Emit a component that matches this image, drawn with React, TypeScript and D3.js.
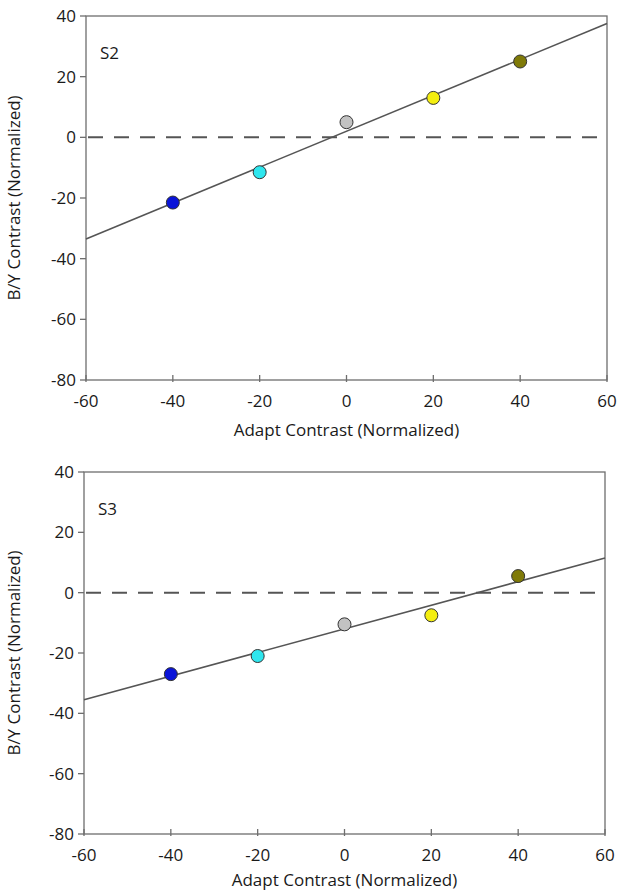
import React, { useEffect, useRef } from 'react';
import * as d3 from 'd3';

const adaptLevels = [-40, -20, 0, 20, 40];
const dotColors = ['#0a14d8', '#2ee6ee', '#c2c2c2', '#f4ee10', '#7f7a08'];
const s2Values = [-21.5, -11.5, 5, 13, 25];
const s3Values = [-27, -21, -10.5, -7.5, 5.5];
const fitX = [-60, 60];
const s2Fit = [-33.5, 37.5];
const s3Fit = [-35.5, 11.5];
const xTicks = [-60, -40, -20, 0, 20, 40, 60];
const yTicks = [40, 20, 0, -20, -40, -60, -80];

const panels = [
  { label: 'S2', values: s2Values, fit: s2Fit, left: 86, right: 607, top: 16, bottom: 380, titleGap: 56 },
  { label: 'S3', values: s3Values, fit: s3Fit, left: 84, right: 605, top: 472, bottom: 834, titleGap: 52 },
];

const font = '"Open Sans", sans-serif';

export default function App() {
  const ref = useRef<SVGSVGElement>(null);

  useEffect(() => {
    const svg = d3.select(ref.current);
    svg.selectAll('*').remove();

    panels.forEach(p => {
      const x = d3.scaleLinear().domain([-60, 60]).range([p.left, p.right]);
      const y = d3.scaleLinear().domain([-80, 40]).range([p.bottom, p.top]);
      const g = svg.append('g');

      // frame
      g.append('rect')
        .attr('x', p.left).attr('y', p.top)
        .attr('width', p.right - p.left).attr('height', p.bottom - p.top)
        .attr('fill', 'none').attr('stroke', '#6e6e6e').attr('stroke-width', 1.3);

      // y ticks
      yTicks.forEach(t => {
        g.append('line')
          .attr('x1', p.left - 6).attr('x2', p.left)
          .attr('y1', y(t)).attr('y2', y(t))
          .attr('stroke', '#6e6e6e').attr('stroke-width', 1.3);
        g.append('text')
          .attr('x', p.left - 10).attr('y', y(t) + 6)
          .attr('text-anchor', 'end')
          .attr('font-family', font).attr('font-size', 17)
          .attr('fill', '#1a1a1a')
          .text(t);
      });

      // x ticks
      xTicks.forEach(t => {
        g.append('line')
          .attr('x1', x(t)).attr('x2', x(t))
          .attr('y1', p.bottom - 5).attr('y2', p.bottom + 2)
          .attr('stroke', '#6e6e6e').attr('stroke-width', 1.3);
        g.append('text')
          .attr('x', x(t)).attr('y', p.bottom + 27)
          .attr('text-anchor', 'middle')
          .attr('font-family', font).attr('font-size', 17)
          .attr('fill', '#1a1a1a')
          .text(t);
      });

      // titles
      g.append('text')
        .attr('x', (p.left + p.right) / 2).attr('y', p.bottom + p.titleGap)
        .attr('text-anchor', 'middle')
        .attr('font-family', font).attr('font-size', 17)
        .attr('fill', '#1a1a1a')
        .text('Adapt Contrast (Normalized)');
      g.append('text')
        .attr('transform', `translate(20,${(p.top + p.bottom) / 2}) rotate(-90)`)
        .attr('text-anchor', 'middle')
        .attr('font-family', font).attr('font-size', 17)
        .attr('fill', '#1a1a1a')
        .text('B/Y Contrast (Normalized)');
      g.append('text')
        .attr('x', p.left + 14).attr('y', p.top + 43)
        .attr('font-family', font).attr('font-size', 17)
        .attr('fill', '#1a1a1a')
        .text(p.label);

      // zero dashed line
      g.append('line')
        .attr('x1', x(-60) + 2).attr('x2', x(60) - 6)
        .attr('y1', y(0)).attr('y2', y(0))
        .attr('stroke', '#555').attr('stroke-width', 2)
        .attr('stroke-dasharray', '15,11');

      // fit line
      const line = d3.line<number>().x((d, i) => x(fitX[i])).y(d => y(d));
      g.append('path')
        .attr('d', line(p.fit))
        .attr('fill', 'none').attr('stroke', '#555').attr('stroke-width', 1.6);

      // points
      g.selectAll('circle.pt')
        .data(p.values)
        .enter().append('circle')
        .attr('class', 'pt')
        .attr('cx', (d, i) => x(adaptLevels[i]))
        .attr('cy', d => y(d))
        .attr('r', 6.5)
        .attr('fill', (d, i) => dotColors[i])
        .attr('stroke', '#333').attr('stroke-width', 1);
    });
  }, []);

  return (
    <svg ref={ref} width={621} height={895}
      style={{ position: 'absolute', left: 0, top: 0, background: '#fff' }} />
  );
}
